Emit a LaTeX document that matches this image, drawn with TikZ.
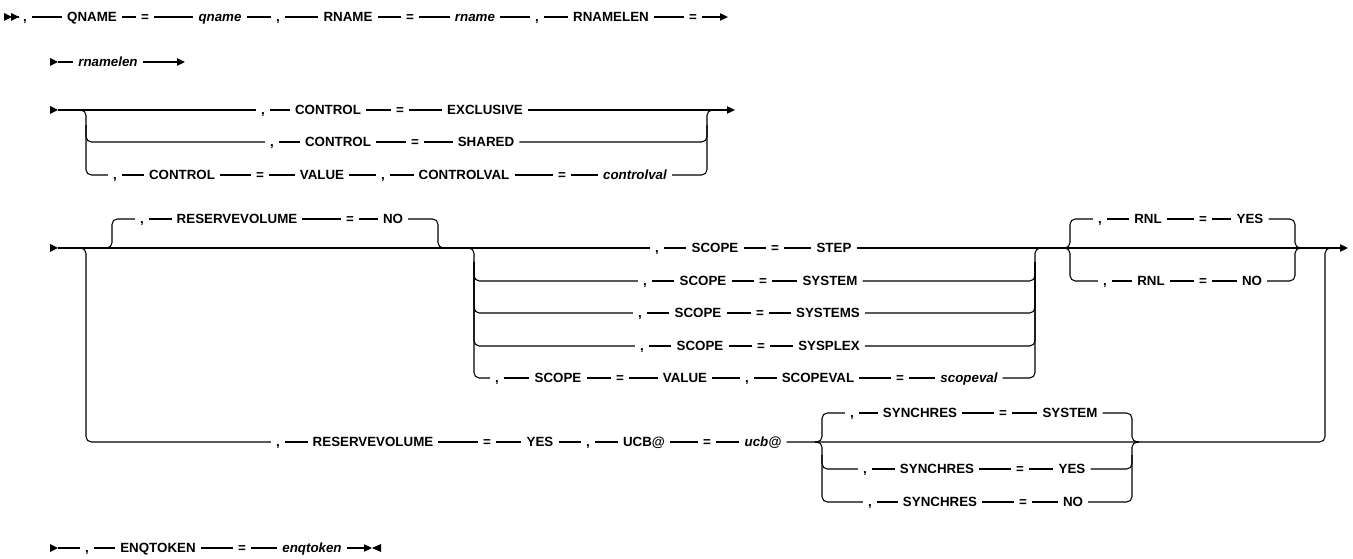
\documentclass[tikz,border=0pt]{standalone}
\usepackage{fontspec}
\setmainfont{Liberation Sans}
\usetikzlibrary{calc}
\usetikzlibrary{arrows.meta}
\usetikzlibrary{positioning}

\begin{document}
\begin{tikzpicture}[x=0.75pt,y=-0.75pt,line width=0.8pt,
    kw/.style={inner xsep=3.5pt,inner ysep=0pt,text height=7.2pt,text depth=0pt,
               font=\fontsize{10}{12}\selectfont\bfseries},
    var/.style={kw,font=\fontsize{10}{12}\selectfont\bfseries\itshape},
    rail/.style={rounded corners=4pt},
    rarrow/.style={-{Triangle[length=6pt,width=5.5pt]}}]
            \useasboundingbox (0,0) rectangle (1353,559);
            % row 1
            \fill (4,13) -- (12,17) -- (4,21) -- cycle;
            \fill (11,13) -- (19,17) -- (11,21) -- cycle;
            \coordinate (s1) at (19,17);
            \coordinate (t1) at (728,17);
            \node[kw]  (cQ) at (25,17)  {,};
            \node[kw]  (kQ) at (92,17)  {QNAME};
            \node[kw]  (eQ) at (145,17) {=};
            \node[var] (vQ) at (220,17) {qname};
            \node[kw]  (cR) at (278,17) {,};
            \node[kw]  (kR) at (348,17) {RNAME};
            \node[kw]  (eR) at (410,17) {=};
            \node[var] (vR) at (475,17) {rname};
            \node[kw]  (cL) at (537,17) {,};
            \node[kw]  (kL) at (611,17) {RNAMELEN};
            \node[kw]  (eL) at (693,17) {=};
            \draw (s1) -- (cQ) -- (kQ) -- (eQ) -- (vQ) -- (cR) -- (kR) -- (eR) -- (vR) -- (cL) -- (kL) -- (eL);
            \draw[rarrow] (eL) -- (t1);
            % row 2
            \fill (50,58) -- (58,62) -- (50,66) -- cycle;
            \coordinate (s2) at (58,62);
            \coordinate (t2) at (185,62);
            \node[var] (vRL) at (108,62) {rnamelen};
            \draw (s2) -- (vRL);
            \draw[rarrow] (vRL) -- (t2);
            % row 3: CONTROL
            \fill (50,106) -- (58,110) -- (50,114) -- cycle;
            \coordinate (s3) at (58,110);
            \coordinate (t3) at (735,110);
            \node[kw]  (cC1) at (263,110) {,};
            \node[kw]  (kC1) at (328,110) {CONTROL};
            \node[kw]  (eC1) at (400,110) {=};
            \node[kw]  (vC1) at (485,110) {EXCLUSIVE};
            \node[kw]  (cC2) at (272,142) {,};
            \node[kw]  (kC2) at (338,142) {CONTROL};
            \node[kw]  (eC2) at (415,142) {=};
            \node[kw]  (vC2) at (486,142) {SHARED};
            \node[kw]  (cC3) at (115,175) {,};
            \node[kw]  (kC3) at (182,175) {CONTROL};
            \node[kw]  (eC3) at (260,175) {=};
            \node[kw]  (vC3) at (322,175) {VALUE};
            \node[kw]  (cC4) at (383,175) {,};
            \node[kw]  (kC4) at (464,175) {CONTROLVAL};
            \node[kw]  (eC4) at (562,175) {=};
            \node[var] (vC4) at (635,175) {controlval};
            \draw (s3) -- (cC1) -- (kC1) -- (eC1) -- (vC1);
            \draw[rarrow] (vC1) -- (t3);
            \draw (cC2) -- (kC2) -- (eC2) -- (vC2);
            \draw (cC3) -- (kC3) -- (eC3) -- (vC3) -- (cC4) -- (kC4) -- (eC4) -- (vC4);
            \coordinate (ctlA) at (79,110);
            \coordinate (ctlB) at (86,175);
            \coordinate (ctlC) at (86,125);
            \coordinate (ctlD) at (707,110);
            \coordinate (ctlE) at (714,110);
            \coordinate (ctlF) at (707,125);
            \draw[rail] (ctlA) -| (ctlB) -- (cC3);
            \draw[rail] (ctlC) |- (cC2);
            \draw[rail] (vC4) -| (ctlD) -- (ctlE);
            \draw[rail] (vC2) -| (ctlF);
            % row 4: RESERVEVOLUME, SCOPE, RNL
            \fill (50,244) -- (58,248) -- (50,252) -- cycle;
            \coordinate (s6) at (58,248);
            \coordinate (t6) at (1348,248);
            \node[kw]  (cRV) at (142,219) {,};
            \node[kw]  (kRV) at (237,219) {RESERVEVOLUME};
            \node[kw]  (eRV) at (350,219) {=};
            \node[kw]  (vRV) at (393,219) {NO};
            \draw (cRV) -- (kRV) -- (eRV) -- (vRV);
            \coordinate (rvA) at (105,248);
            \coordinate (rvB) at (112,219);
            \coordinate (rvC) at (438,248);
            \coordinate (rvD) at (445,248);
            \draw[rail] (rvA) -| (rvB) -- (cRV);
            \draw[rail] (vRV) -| (rvC) -- (rvD);
            % scope choices
            \node[kw]  (cS1) at (657,248) {,};
            \node[kw]  (kS1) at (715,248) {SCOPE};
            \node[kw]  (eS1) at (775,248) {=};
            \node[kw]  (vS1) at (834,248) {STEP};
            \node[kw]  (cS2) at (645,281) {,};
            \node[kw]  (kS2) at (703,281) {SCOPE};
            \node[kw]  (eS2) at (763,281) {=};
            \node[kw]  (vS2) at (830,281) {SYSTEM};
            \node[kw]  (cS3) at (640,313) {,};
            \node[kw]  (kS3) at (698,313) {SCOPE};
            \node[kw]  (eS3) at (760,313) {=};
            \node[kw]  (vS3) at (828,313) {SYSTEMS};
            \node[kw]  (cS4) at (642,346) {,};
            \node[kw]  (kS4) at (700,346) {SCOPE};
            \node[kw]  (eS4) at (761,346) {=};
            \node[kw]  (vS4) at (829,346) {SYSPLEX};
            \node[kw]  (cS5) at (497,378) {,};
            \node[kw]  (kS5) at (558,378) {SCOPE};
            \node[kw]  (eS5) at (620,378) {=};
            \node[kw]  (vS5) at (685,378) {VALUE};
            \node[kw]  (cS6) at (747,378) {,};
            \node[kw]  (kS6) at (818,378) {SCOPEVAL};
            \node[kw]  (eS6) at (900,378) {=};
            \node[var] (vS6) at (969,378) {scopeval};
            \draw (s6) -- (cS1) -- (kS1) -- (eS1) -- (vS1);
            \draw[rarrow] (vS1) -- (t6);
            \draw (cS2) -- (kS2) -- (eS2) -- (vS2);
            \draw (cS3) -- (kS3) -- (eS3) -- (vS3);
            \draw (cS4) -- (kS4) -- (eS4) -- (vS4);
            \draw (cS5) -- (kS5) -- (eS5) -- (vS5) -- (cS6) -- (kS6) -- (eS6) -- (vS6);
            \coordinate (scA) at (467,248);
            \coordinate (scB) at (474,378);
            \coordinate (scC) at (474,262);
            \coordinate (scD) at (1035,248);
            \coordinate (scE) at (1042,248);
            \coordinate (scF) at (1035,262);
            \draw[rail] (scA) -| (scB) -- (cS5);
            \draw[rail] (vS6) -| (scD) -- (scE);
            \foreach \c/\v in {cS2/vS2,cS3/vS3,cS4/vS4}{
                \draw[rail] (scC) |- (\c);
                \draw[rail] (\v) -| (scF);
            }
            % RNL
            \node[kw]  (cN1) at (1100,219) {,};
            \node[kw]  (kN1) at (1148,219) {RNL};
            \node[kw]  (eN1) at (1203,219) {=};
            \node[kw]  (vN1) at (1250,219) {YES};
            \node[kw]  (cN2) at (1105,281) {,};
            \node[kw]  (kN2) at (1151,281) {RNL};
            \node[kw]  (eN2) at (1203,281) {=};
            \node[kw]  (vN2) at (1252,281) {NO};
            \draw (cN1) -- (kN1) -- (eN1) -- (vN1);
            \draw (cN2) -- (kN2) -- (eN2) -- (vN2);
            \coordinate (rnA) at (1063,248);
            \coordinate (rnB) at (1070,219);
            \coordinate (rnC) at (1070,281);
            \coordinate (rnD) at (1295,248);
            \coordinate (rnE) at (1302,248);
            \draw[rail] (rnA) -| (rnB) -- (cN1);
            \draw[rail] (rnA) -| (rnC) -- (cN2);
            \draw[rail] (vN1) -| (rnD) -- (rnE);
            \draw[rail] (vN2) -| (rnD) -- (rnE);
            % RESERVEVOLUME=YES branch
            \node[kw]  (cB1) at (278,442) {,};
            \node[kw]  (kB1) at (373,442) {RESERVEVOLUME};
            \node[kw]  (eB1) at (487,442) {=};
            \node[kw]  (vB1) at (540,442) {YES};
            \node[kw]  (cB2) at (588,442) {,};
            \node[kw]  (kB2) at (644,442) {UCB@};
            \node[kw]  (eB2) at (707,442) {=};
            \node[var] (vB2) at (763,442) {ucb@};
            \draw (cB1) -- (kB1) -- (eB1) -- (vB1) -- (cB2) -- (kB2) -- (eB2) -- (vB2);
            \coordinate (bA) at (79,248);
            \coordinate (bB) at (86,442);
            \coordinate (bD) at (1325,248);
            \coordinate (bE) at (1332,248);
            \draw[rail] (bA) -| (bB) -- (cB1);
            \draw[rail] (vB2) -| (bD) -- (bE);
            % SYNCHRES
            \node[kw]  (cY1) at (852,413) {,};
            \node[kw]  (kY1) at (920,413) {SYNCHRES};
            \node[kw]  (eY1) at (1003,413) {=};
            \node[kw]  (vY1) at (1070,413) {SYSTEM};
            \node[kw]  (cY2) at (865,469) {,};
            \node[kw]  (kY2) at (937,469) {SYNCHRES};
            \node[kw]  (eY2) at (1020,469) {=};
            \node[kw]  (vY2) at (1072,469) {YES};
            \node[kw]  (cY3) at (870,502) {,};
            \node[kw]  (kY3) at (940,502) {SYNCHRES};
            \node[kw]  (eY3) at (1023,502) {=};
            \node[kw]  (vY3) at (1073,502) {NO};
            \draw (cY1) -- (kY1) -- (eY1) -- (vY1);
            \draw (cY2) -- (kY2) -- (eY2) -- (vY2);
            \draw (cY3) -- (kY3) -- (eY3) -- (vY3);
            \coordinate (syA) at (815,442);
            \coordinate (syB) at (822,413);
            \coordinate (syC) at (822,502);
            \coordinate (syD) at (822,455);
            \coordinate (syE) at (1132,442);
            \coordinate (syF) at (1139,442);
            \coordinate (syG) at (1132,455);
            \draw[rail] (syA) -| (syB) -- (cY1);
            \draw[rail] (syA) -| (syC) -- (cY3);
            \draw[rail] (syD) |- (cY2);
            \draw[rail] (vY1) -| (syE) -- (syF);
            \draw[rail] (vY3) -| (syE) -- (syF);
            \draw[rail] (vY2) -| (syG);
            % last row
            \fill (50,544) -- (58,548) -- (50,552) -- cycle;
            \coordinate (s8) at (58,548);
            \coordinate (t8) at (372,548);
            \node[kw]  (cE) at (87,548)  {,};
            \node[kw]  (kE) at (158,548) {ENQTOKEN};
            \node[kw]  (eE) at (242,548) {=};
            \node[var] (vE) at (312,548) {enqtoken};
            \draw (s8) -- (cE) -- (kE) -- (eE) -- (vE);
            \draw[rarrow] (vE) -- (t8);
            \fill (372,548) -- (381,544) -- (381,552) -- cycle;
\end{tikzpicture}
\end{document}
